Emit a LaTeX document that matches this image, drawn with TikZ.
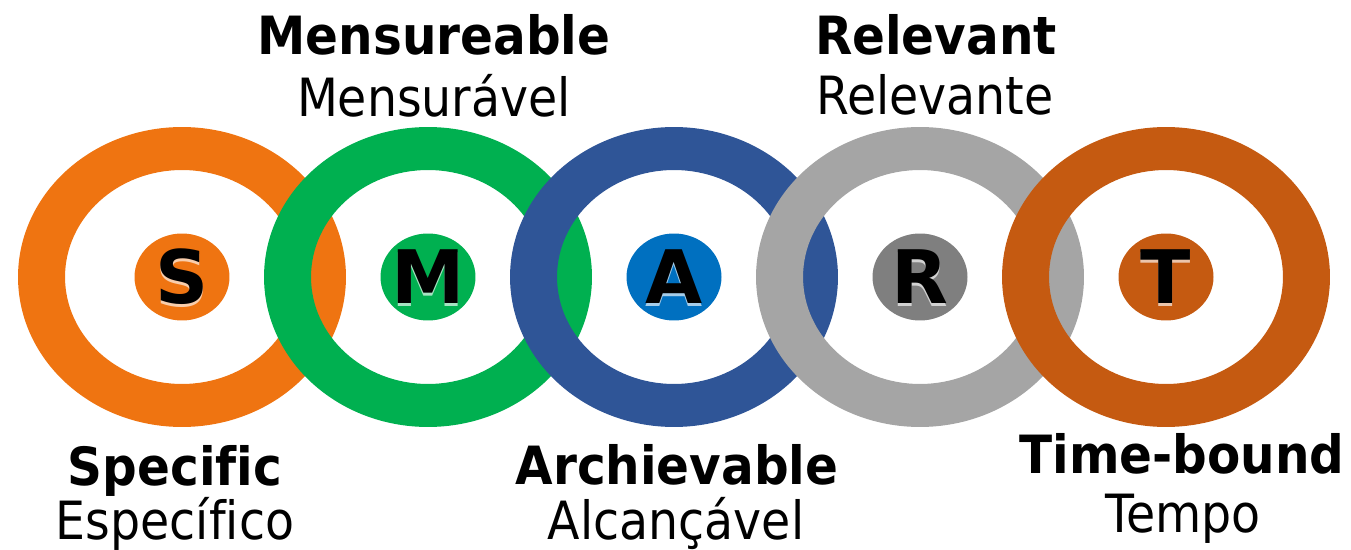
\documentclass[tikz,border=0pt]{standalone}
\usepackage{fontspec}
\setmainfont{DejaVu Sans}[Ligatures=NoCommon]
\newfontfamily\labelfont{DejaVu Sans}[FakeStretch=0.9, Ligatures=NoCommon]
\newfontfamily\labelbold{DejaVu Sans Bold}[FakeStretch=0.92, Ligatures=NoCommon]
\usetikzlibrary{shapes.geometric}

\definecolor{sOrange}{HTML}{EF7411}
\definecolor{mGreen}{HTML}{00B050}
\definecolor{aBlue}{HTML}{2F5597}
\definecolor{aLight}{HTML}{0070C0}
\definecolor{rGray}{HTML}{A5A5A5}
\definecolor{rDark}{HTML}{7F7F7F}
\definecolor{tOrange}{HTML}{C55A11}

% one ring of the chain, centred at (#2,277)
\newcommand{\smartring}[2]{\fill[#1, even odd rule] (#2,277) ellipse [x radius=3.28cm, y radius=3cm] (#2,277) ellipse [x radius=2.34cm, y radius=2.14cm];}

\tikzset{
  badge/.style={ellipse, minimum width=1.9cm, minimum height=1.74cm, inner sep=0pt},
  letter/.style={font=\fontsize{42}{46}\selectfont\bfseries, inner sep=0pt},
  en/.style={anchor=base, font=\fontsize{30}{34}\labelbold},
  pt/.style={anchor=base, font=\fontsize{30}{34}\labelfont}
}

\begin{document}
\begin{tikzpicture}[x=0.02cm, y=-0.02cm]
			\useasboundingbox (0,0) rectangle (1351,550);
			% rings, each later one lies over the one before
			\smartring{sOrange}{182}
			\smartring{mGreen}{428}
			\smartring{aBlue}{674}
			\smartring{rGray}{920}
			\smartring{tOrange}{1166}
			% letters in their small ellipses
			\node[badge, fill=sOrange] (S) at (182,277) {};
			\node[letter, text=sOrange!35, yshift=-1.4pt] (Sglow) at (S) {S};
			\node[letter] (Sl) at (S) {S};
			\node[badge, fill=mGreen] (M) at (428,277) {};
			\node[letter, text=mGreen!35, yshift=-1.4pt] (Mglow) at (M) {M};
			\node[letter] (Ml) at (M) {M};
			\node[badge, fill=aLight] (A) at (674,277) {};
			\node[letter, text=aLight!35, yshift=-1.4pt] (Aglow) at (A) {A};
			\node[letter] (Al) at (A) {A};
			\node[badge, fill=rDark] (R) at (920,277) {};
			\node[letter, text=rDark!35, yshift=-1.4pt] (Rglow) at (R) {R};
			\node[letter] (Rl) at (R) {R};
			\node[badge, fill=tOrange] (T) at (1166,277) {};
			\node[letter, text=tOrange!35, yshift=-1.4pt] (Tglow) at (T) {T};
			\node[letter] (Tl) at (T) {T};
			% labels above
			\node[en] (mEn) at (434,55) {Mensureable};
			\node[pt] (mPt) at (434,117) {Mensurável};
			\node[en] (rEn) at (936,55) {Relevant};
			\node[pt] (rPt) at (935,115) {Relevante};
			% labels below
			\node[en] (sEn) at (175,485) {Specific};
			\node[pt] (sPt) at (175,539) {Específico};
			\node[en] (aEn) at (677,484) {Archievable};
			\node[pt] (aPt) at (676,539) {Alcançável};
			\node[en] (tEn) at (1182,473) {Time-bound};
			\node[pt] (tPt) at (1183,532) {Tempo};
\end{tikzpicture}
\end{document}
